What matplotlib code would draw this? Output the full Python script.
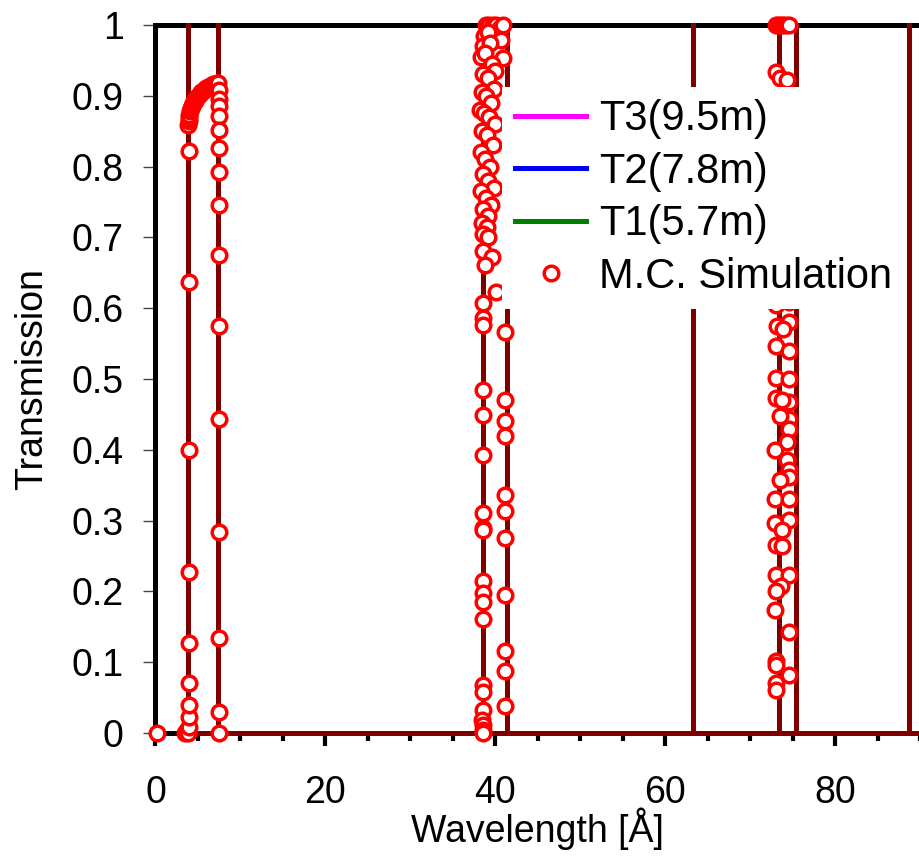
import numpy as np
import matplotlib.pyplot as plt
from matplotlib.ticker import MultipleLocator, FuncFormatter

plt.rcParams['font.family'] = ['Liberation Sans', 'DejaVu Sans']

# calculated transmission: zero except narrow windows that open fully
curve_lam = [3.6, 3.85, 3.85, 3.85, 7.4, 7.4, 7.4, 38.6, 38.6, 38.6,
             41.4, 41.4, 41.4, 63.3, 63.3, 63.3, 73.45, 73.45, 73.45,
             75.35, 75.35, 75.35, 88.75, 88.75, 88.75, 90.0]
curve_T = [0, 0, 1, 0, 0, 1, 0, 0, 1, 0,
           0, 1, 0, 0, 1, 0, 0, 1, 0,
           0, 1, 0, 0, 1, 0, 0]

# Monte Carlo points, first window (3.5 - 7.5 A)
mc_lam_a = [0.2, 3.5, 3.6, 3.7, 3.8,
            3.95, 3.95, 3.95, 3.95, 3.95, 3.95, 3.95, 3.95, 3.95,
            3.85, 3.9, 3.95, 4.0, 4.1, 4.2, 4.3, 4.45, 4.6, 4.8, 5.0, 5.2,
            5.4, 5.6, 5.8, 6.0, 6.2, 6.4, 6.6, 6.8, 7.0, 7.2, 7.35,
            7.43, 7.43, 7.43, 7.43, 7.43, 7.43, 7.43, 7.43, 7.43, 7.43,
            7.43, 7.43, 7.43, 7.43, 7.43]
mc_T_a = [0.0, 0.0, 0.002, 0.004, 0.0,
          0.009, 0.023, 0.040, 0.071, 0.127, 0.227, 0.400, 0.637, 0.822,
          0.858, 0.864, 0.869, 0.873, 0.878, 0.882, 0.886, 0.890, 0.893,
          0.897, 0.900, 0.903, 0.905, 0.907, 0.909, 0.911, 0.912, 0.914,
          0.915, 0.916, 0.917, 0.918, 0.918,
          0.908, 0.896, 0.885, 0.871, 0.852, 0.826, 0.792, 0.746, 0.675,
          0.575, 0.443, 0.284, 0.134, 0.029, 0.0]

# second window (38 - 41.5 A)
mc_lam_b = [38.56, 38.5, 38.6, 38.56, 38.5, 38.56, 38.56, 38.5, 38.6,
            38.56, 38.5, 38.6, 38.56, 38.5, 38.6, 38.56, 38.45, 38.5,
            38.55, 38.5,
            41.1, 41.1, 41.1, 41.1, 41.1, 41.1, 41.1, 41.1, 41.1, 41.1, 41.1,
            38.9, 39.3, 39.7, 40.1, 40.5, 40.9, 38.7, 39.1, 40.7, 38.5, 39.4,
            40.9, 38.3, 38.8, 39.6, 40.0, 38.5, 39.2, 39.9, 38.4, 38.9, 39.5,
            38.2, 38.7, 39.3, 40.0, 38.4, 39.0, 39.7, 38.3, 38.8, 39.4, 38.5,
            39.1, 39.8, 38.3, 38.9, 39.5, 38.6, 39.2, 38.4, 39.0, 38.6, 39.1,
            38.5, 39.6, 38.8, 40.1]
mc_T_b = [0.607, 0.586, 0.576, 0.485, 0.449, 0.393, 0.310, 0.289, 0.286,
          0.214, 0.198, 0.185, 0.161, 0.068, 0.058, 0.032, 0.018, 0.011,
          0.004, 0.0,
          0.567, 0.470, 0.441, 0.419, 0.336, 0.314, 0.276, 0.195, 0.116,
          0.088, 0.038,
          1.0, 1.0, 1.0, 1.0, 0.995, 1.0, 0.985, 0.99, 0.979, 0.97, 0.975,
          0.953, 0.955, 0.96, 0.945, 0.935, 0.93, 0.925, 0.91, 0.905, 0.9,
          0.89, 0.88, 0.875, 0.87, 0.86, 0.85, 0.845, 0.83, 0.82, 0.81,
          0.8, 0.79, 0.78, 0.77, 0.765, 0.755, 0.745, 0.74, 0.73, 0.72,
          0.715, 0.705, 0.70, 0.68, 0.672, 0.661, 0.623]

# third window (73 - 75 A)
mc_lam_c = [73.0, 73.3, 73.6, 73.9, 74.2, 74.6, 73.1, 73.5, 74.3,
            73.1, 74.6, 74.6, 73.2, 73.9, 73.1, 74.6, 73.1, 74.6, 73.1,
            74.6, 73.8, 74.6, 73.5, 74.6, 74.4, 72.9, 74.4, 74.6, 74.6,
            73.5, 72.9, 74.6, 72.9, 74.6, 73.8, 73.1, 73.8, 73.1, 74.6,
            73.6, 73.0, 72.9, 74.6, 73.1, 73.1, 74.6, 73.1, 73.1]
mc_T_c = [1.0, 1.0, 1.0, 1.0, 1.0, 1.0, 0.934, 0.925, 0.922,
          0.605, 0.609, 0.581, 0.575, 0.570, 0.546, 0.539, 0.501, 0.500,
          0.473, 0.468, 0.470, 0.444, 0.447, 0.430, 0.411, 0.400, 0.386,
          0.371, 0.362, 0.357, 0.331, 0.331, 0.296, 0.301, 0.287, 0.266,
          0.264, 0.223, 0.223, 0.208, 0.200, 0.174, 0.142, 0.101, 0.096,
          0.082, 0.070, 0.061]

mc_lam = mc_lam_a + mc_lam_b + mc_lam_c
mc_T = mc_T_a + mc_T_b + mc_T_c

series_names = ['T3(9.5m)', 'T2(7.8m)', 'T1(5.7m)']
series_colors = ['#ff00ff', '#0000ff', '#008000']

fig = plt.figure(figsize=(9.2, 8.59), dpi=100)
ax = fig.add_axes([0.169, 0.1467, 0.831, 0.8243])

handles = []
for name, col in zip(series_names, series_colors):
    h, = ax.plot(curve_lam, curve_T, color=col, lw=3.6, label=name,
                 zorder=2.55, clip_on=False)
    handles.append(h)
ax.plot(curve_lam, curve_T, color='#800000', lw=3.6, zorder=2.6,
        clip_on=False)
mc, = ax.plot(mc_lam, mc_T, 'o', ms=10.5, mew=2.5, mec='#ff0000',
              mfc='white', ls='none', label='M.C. Simulation', zorder=3,
              clip_on=False)
handles.append(mc)

ax.set_xlim(0, 90)
ax.set_ylim(0, 1)
ax.xaxis.set_major_locator(MultipleLocator(20))
ax.xaxis.set_minor_locator(MultipleLocator(5))
ax.yaxis.set_major_locator(MultipleLocator(0.1))
ax.yaxis.set_major_formatter(FuncFormatter(lambda v, p: f'{v:g}'))

ax.tick_params(axis='x', which='major', direction='out', length=9,
               width=3, pad=21, labelsize=27)
ax.tick_params(axis='x', which='minor', direction='out', length=6, width=3)
ax.tick_params(axis='y', direction='out', length=9, width=1, pad=14,
               labelsize=27, color='#444444')

for side in ['left', 'top', 'bottom']:
    ax.spines[side].set_linewidth(3.6)
    ax.spines[side].set_color('black')
ax.spines['right'].set_visible(False)

ax.set_xlabel('Wavelength [Å]', fontsize=27, labelpad=-2.5)
ax.set_ylabel('Transmission', fontsize=27, labelpad=15.5)

leg = ax.legend(handles=handles, loc='upper left',
                bbox_to_anchor=(0.546, 0.899), bbox_transform=fig.transFigure,
                fontsize=30, frameon=True, fancybox=False, framealpha=1,
                edgecolor='none', facecolor='white', handlelength=1.72,
                handletextpad=0.3, labelspacing=0.3, borderpad=0.3,
                borderaxespad=0)

fig.savefig('out.png', dpi=100)
